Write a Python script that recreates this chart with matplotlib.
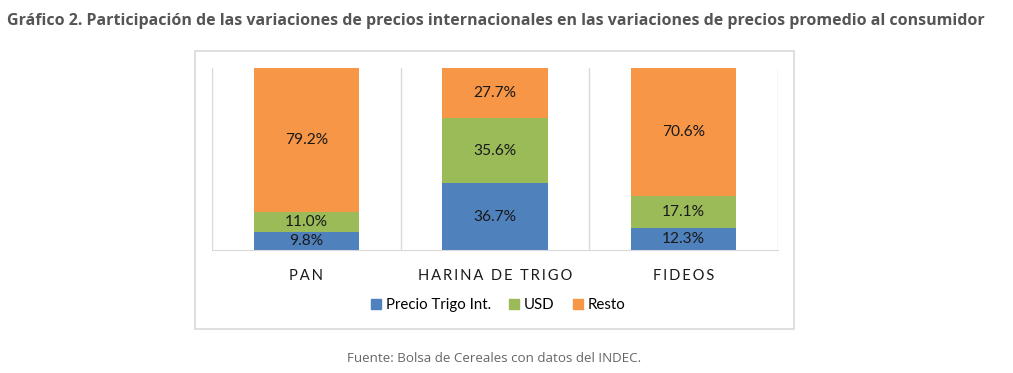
import matplotlib.pyplot as plt
from matplotlib.patches import Rectangle, Patch

# datos
categorias = ["PAN", "HARINA DE TRIGO", "FIDEOS"]
precio_trigo = [9.8, 36.7, 12.3]
usd = [11.0, 35.6, 17.1]
resto = [79.2, 27.7, 70.6]
series = ["Precio Trigo Int.", "USD", "Resto"]
colores = ["#4F81BD", "#9BBB59", "#F79646"]

W, H = 1013, 373
fig = plt.figure(figsize=(W / 100, H / 100), dpi=100)

# marco del grafico
fig.patches.append(Rectangle((195 / W, 1 - 329 / H), (794 - 195) / W, (329 - 51) / H,
                             transform=fig.transFigure, fill=False,
                             edgecolor="#D9D9D9", linewidth=1.2))

ax = fig.add_axes([212 / W, 1 - 250 / H, (778 - 212) / W, (250 - 68) / H])

x = range(len(categorias))
bottom = [0, 0, 0]
for vals, nombre, col in zip([precio_trigo, usd, resto], series, colores):
    bars = ax.bar(x, vals, 0.56, bottom=bottom, color=col, label=nombre)
    for b, v, base in zip(bars, vals, bottom):
        ax.text(b.get_x() + b.get_width() / 2, base + v / 2, f"{v:.1f}%",
                ha="center", va="center", fontsize=11.2, family="Lato", color="#1a1a1a")
    bottom = [a + c for a, c in zip(bottom, vals)]

ax.set_xlim(-0.5, 2.5)
ax.set_ylim(0, 100)
for sep in [-0.5, 0.5, 1.5, 2.5]:
    ax.axvline(sep, color="#D9D9D9", linewidth=1, zorder=0)
for s in ["top", "right", "left"]:
    ax.spines[s].set_visible(False)
ax.spines["bottom"].set_color("#D9D9D9")
ax.set_yticks([])
ax.set_xticks(list(x))
ax.set_xticklabels(["\u2009".join(c) for c in categorias], family="Lato",
                   fontsize=10.6, color="#1a1a1a")
ax.tick_params(axis="x", length=0, pad=14)

handles = [Patch(color=c) for c in colores]
fig.legend(handles, series, loc="center", bbox_to_anchor=(498 / W, 1 - 305 / H),
           ncol=3, frameon=False, prop={"family": "Lato", "size": 10.8},
           handlelength=0.7, handleheight=0.7, handletextpad=0.3, columnspacing=1.2)

fig.text(7 / W, 1 - 21 / H,
         "Gráfico 2. Participación de las variaciones de precios internacionales en las variaciones de precios promedio al consumidor",
         family="Open Sans", fontweight="bold", fontsize=11.5, color="#555555",
         ha="left", va="center")
fig.text(494 / W, 1 - 358 / H, "Fuente: Bolsa de Cereales con datos del INDEC.",
         family="Open Sans", fontsize=9.6, color="#666666", ha="center", va="center")

fig.savefig("out.png", dpi=100)
